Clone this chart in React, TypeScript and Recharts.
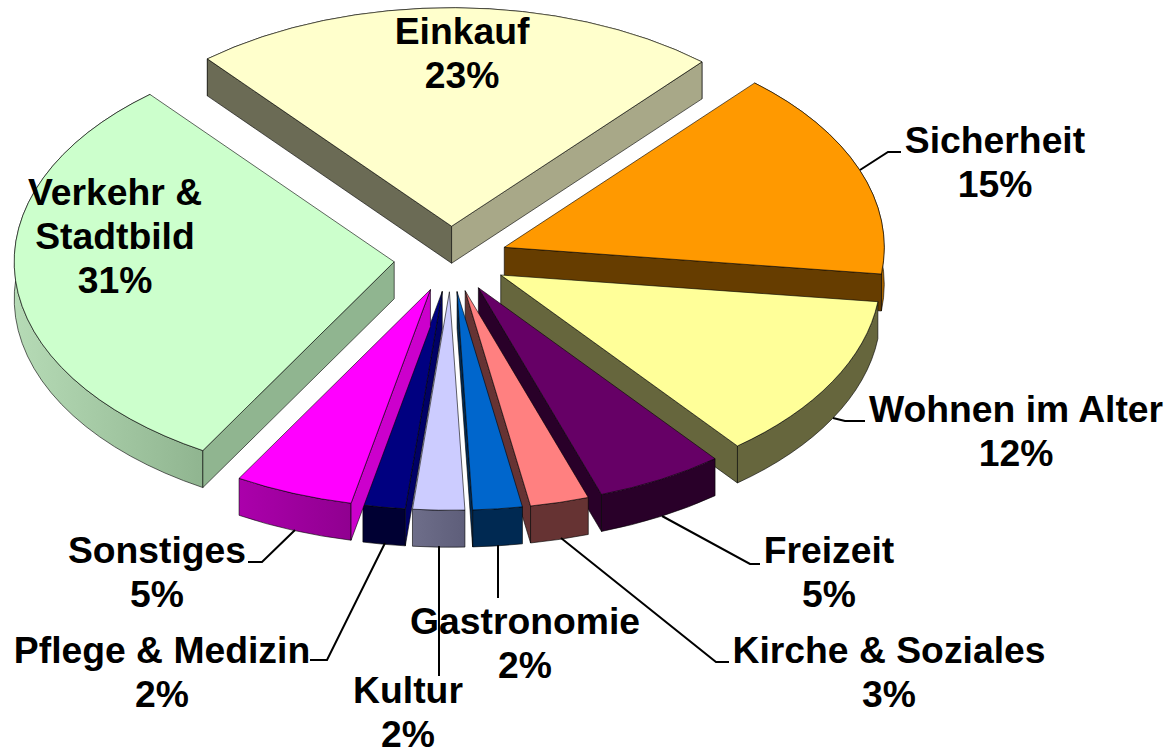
import React from 'react';
import { PieChart, Pie } from 'recharts';

const names = ['Einkauf', 'Sicherheit', 'Wohnen im Alter', 'Freizeit', 'Kirche & Soziales', 'Gastronomie', 'Kultur', 'Pflege & Medizin', 'Sonstiges', 'Verkehr & Stadtbild'];
const values = [22.56, 15.5, 12.35, 5.45, 2.5, 2.1, 2.2, 1.8, 5.05, 30.49];
const percentLabels = ['23%', '15%', '12%', '5%', '3%', '2%', '2%', '2%', '5%', '31%'];
const topColors = ['#FFFFCC', '#FF9900', '#FFFF99', '#660066', '#FF8080', '#0066CC', '#CCCCFF', '#000080', '#FF00FF', '#CCFFCC'];
// side walls of each slice: wall at start edge, wall at end edge, outer arc left and right colour
const startWalls = ['#6B6B55', '#663D00', '#66663D', '#290029', '#663333', '#002952', '#8888AA', '#000066', '#CC00CC', '#90B590'];
const endWalls = ['#A8A888', '#663D00', '#66663D', '#290029', '#663333', '#002952', '#666680', '#000066', '#CC00CC', '#90B590'];
const arcLeft = ['#A8A888', '#A86400', '#66663D', '#290029', '#663333', '#002952', '#6E6E8A', '#000033', '#AB00AB', '#B6DBB6'];
const arcRight = ['#A8A888', '#A86400', '#66663D', '#290029', '#663333', '#002952', '#5E5E7A', '#000033', '#900090', '#90B590'];

// label layout: centre x, centre y of first line, then line-broken text
const labelLines = [['Einkauf'], ['Sicherheit'], ['Wohnen im Alter'], ['Freizeit'], ['Kirche & Soziales'], ['Gastronomie'], ['Kultur'], ['Pflege & Medizin'], ['Sonstiges'], ['Verkehr &', 'Stadtbild']];
const labelX = [462, 995, 1016, 829, 889, 525, 408, 162, 157, 115];
const labelY = [31, 140, 409, 550, 650, 621, 690, 650, 550, 192];
const leaders: number[][][] = [
  [],
  [[860, 170], [888, 152], [901, 152]],
  [[833, 418], [845, 421], [865, 421]],
  [[662, 516], [750, 564], [760, 564]],
  [[561, 538], [716, 662], [729, 662]],
  [[498, 545], [498, 598]],
  [[439, 546], [439, 676]],
  [[385, 543], [327, 660], [310, 660]],
  [[295, 530], [262, 562], [248, 562]],
  [],
];

const CX = 451;
const CY = 259;
const RX = 380;
const SQUASH = 0.575;
const EXPLODE = 57;
const DEPTH = 37;
const FONT_SIZE = 37.3;
const LINE_HEIGHT = 44;
const EDGE = 'rgba(0,0,0,0.6)';

const data = names.map((name, i) => ({ name, value: values[i], fill: topColors[i], idx: i }));

function Slice3D(props: any) {
  const { startAngle, endAngle, outerRadius, payload } = props;
  const i = props.idx ?? payload.idx;
  const rad = Math.PI / 180;
  const mid = ((startAngle + endAngle) / 2) * rad;
  const ox = CX + EXPLODE * Math.cos(mid);
  const oy = CY - EXPLODE * SQUASH * Math.sin(mid);
  const rx = outerRadius;
  const ry = outerRadius * SQUASH;
  const px = (a: number) => ox + rx * Math.cos(a * rad);
  const py = (a: number) => oy - ry * Math.sin(a * rad);
  const x1 = px(startAngle);
  const y1 = py(startAngle);
  const x2 = px(endAngle);
  const y2 = py(endAngle);
  const wall = (x: number, y: number) =>
    `M${ox},${oy} L${x},${y} L${x},${y + DEPTH} L${ox},${oy + DEPTH} Z`;
  const gradId = `arc-grad-${i}`;
  // a radial wall only shows when going straight down leaves the slice
  const startVisible = Math.cos(startAngle * rad) < 0;
  const endVisible = Math.cos(endAngle * rad) > 0;
  return (
    <g>
      <defs>
        <linearGradient id={gradId} x1="0" y1="0" x2="1" y2="0">
          <stop offset="0%" stopColor={arcLeft[i]} />
          <stop offset="100%" stopColor={arcRight[i]} />
        </linearGradient>
      </defs>
      <path
        d={`M${x1},${y1} A${rx},${ry} 0 0 1 ${x2},${y2} L${x2},${y2 + DEPTH} A${rx},${ry} 0 0 0 ${x1},${y1 + DEPTH} Z`}
        fill={`url(#${gradId})`}
        stroke={EDGE}
        strokeWidth={1}
      />
      {startVisible && <path d={wall(x1, y1)} fill={startWalls[i]} stroke={EDGE} strokeWidth={1} />}
      {endVisible && <path d={wall(x2, y2)} fill={endWalls[i]} stroke={EDGE} strokeWidth={1} />}
      <path
        d={`M${ox},${oy} L${x1},${y1} A${rx},${ry} 0 0 1 ${x2},${y2} Z`}
        fill={topColors[i]}
        stroke={EDGE}
        strokeWidth={1}
      />
    </g>
  );
}

function SliceLabel(props: any) {
  const i = props.index;
  const lines = [...labelLines[i], percentLabels[i]];
  return (
    <text
      x={labelX[i]}
      y={labelY[i]}
      textAnchor="middle"
      dominantBaseline="central"
      fontFamily="'Liberation Sans', Arial, sans-serif"
      fontWeight="bold"
      fontSize={FONT_SIZE}
      fill="#000"
    >
      {lines.map((line, k) => (
        <tspan key={k} x={labelX[i]} y={labelY[i] + k * LINE_HEIGHT}>
          {line}
        </tspan>
      ))}
    </text>
  );
}

function LeaderLine(props: any) {
  const pts = leaders[props.index];
  if (!pts || pts.length === 0) return <g />;
  return <polyline points={pts.map(p => p.join(',')).join(' ')} fill="none" stroke="#000" strokeWidth={2} />;
}

export default function App() {
  return (
    <div style={{ position: 'absolute', left: 0, top: 0, width: 1166, height: 749, background: '#fff' }}>
      <PieChart width={1166} height={749} margin={{ top: 0, right: 0, bottom: 0, left: 0 }}>
        <Pie
          data={data}
          dataKey="value"
          nameKey="name"
          cx={CX}
          cy={CY}
          innerRadius={0}
          outerRadius={RX}
          startAngle={130}
          endAngle={-230}
          stroke="none"
          isAnimationActive={false}
          shape={Slice3D}
          label={SliceLabel}
          labelLine={LeaderLine}
        />
      </PieChart>
    </div>
  );
}
